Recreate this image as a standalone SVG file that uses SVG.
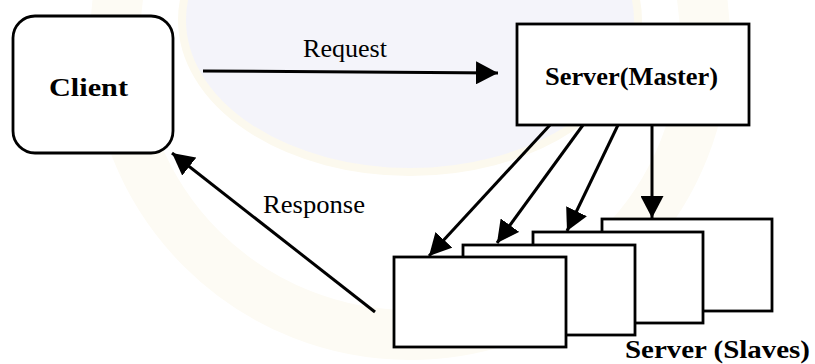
<svg xmlns="http://www.w3.org/2000/svg" width="815" height="364" viewBox="0 0 815 364">
  <style>
    .box { fill: #ffffff; stroke: #000000; stroke-width: 2.8; }
    .link { fill: none; stroke: #000000; stroke-width: 3; stroke-linecap: butt; }
    .bold { font-family: "Liberation Serif", "Times New Roman", serif; font-weight: bold; font-size: 25px; fill: #000000; }
    .plain { font-family: "Liberation Serif", "Times New Roman", serif; font-size: 25px; fill: #000000; }
  </style>
  <defs>
    <marker id="head" markerUnits="userSpaceOnUse" markerWidth="23" markerHeight="23" refX="22" refY="11.5" orient="auto">
      <path d="M0,0 L22,11.5 L0,23 z" fill="#000000"/>
    </marker>
  </defs>

  <!-- page background with a faint seal behind the drawing -->
  <rect x="0" y="0" width="815" height="364" fill="#ffffff"/>
  <g id="seal">
    <ellipse cx="410" cy="40" rx="295" ry="295" fill="none" stroke="#fdfbf4" stroke-width="50"/>
    <ellipse cx="410" cy="20" rx="228" ry="152" fill="#f4f4fa"/>
    <ellipse cx="410" cy="20" rx="228" ry="152" fill="none" stroke="#fcf9ee" stroke-width="8"/>
  </g>

  <g id="client">
    <rect class="box" x="13" y="16" width="160" height="137" rx="22" ry="22"/>
    <text class="bold" x="49" y="96" textLength="79" lengthAdjust="spacingAndGlyphs">Client</text>
  </g>

  <g id="master">
    <rect class="box" x="517" y="24" width="232" height="101"/>
    <text class="bold" x="545" y="85" textLength="173" lengthAdjust="spacingAndGlyphs">Server(Master)</text>
  </g>

  <g id="slaves">
    <rect class="box" x="602" y="219" width="170" height="92"/>
    <rect class="box" x="533" y="232" width="170" height="91"/>
    <rect class="box" x="463" y="245" width="172" height="90"/>
    <rect class="box" x="394" y="257" width="172" height="90"/>
    <text class="bold" x="625" y="358" textLength="185" lengthAdjust="spacingAndGlyphs">Server (Slaves)</text>
  </g>

  <g id="connectors">
    <line class="link" x1="203" y1="71" x2="498" y2="73" marker-end="url(#head)"/>
    <text class="plain" x="303" y="57" textLength="84" lengthAdjust="spacingAndGlyphs">Request</text>
    <line class="link" x1="375" y1="312" x2="172" y2="153" marker-end="url(#head)"/>
    <text class="plain" x="263" y="213" textLength="102" lengthAdjust="spacingAndGlyphs">Response</text>
    <line class="link" x1="550" y1="125" x2="429" y2="256" marker-end="url(#head)"/>
    <line class="link" x1="583" y1="125" x2="497" y2="243" marker-end="url(#head)"/>
    <line class="link" x1="618" y1="125" x2="567" y2="231" marker-end="url(#head)"/>
    <line class="link" x1="652" y1="125" x2="652" y2="218" marker-end="url(#head)"/>
  </g>
</svg>
